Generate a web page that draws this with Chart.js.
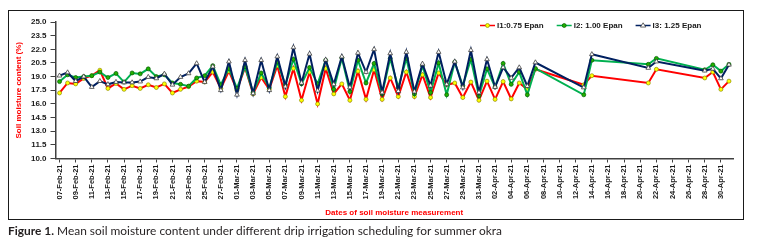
<!DOCTYPE html>
<html><head><meta charset="utf-8">
<script src="https://cdn.jsdelivr.net/npm/chart.js@4.4.1/dist/chart.umd.min.js"></script>
<style>
html,body{margin:0;padding:0;background:#fff;}
#wrap{position:relative;width:757px;height:244px;overflow:hidden;background:#fff;}
#frame{position:absolute;left:8px;top:10px;width:736px;height:210px;border:1.5px solid #1a1a1a;box-sizing:border-box;}
canvas{position:absolute;left:0;top:0;}
#cap{position:absolute;left:8px;top:224.3px;font-family:Lato,'Open Sans',sans-serif;font-size:11.5px;line-height:13.8px;color:#231f20;white-space:nowrap;transform-origin:left top;}
#cap b{font-weight:700;}
</style></head>
<body>
<div id="wrap">
  <div id="frame"></div>
  <canvas id="c" width="757" height="244"></canvas>
  <div id="cap"><b>Figure 1.</b> Mean soil moisture content under different drip irrigation scheduling for summer okra</div>
</div>
<script>
// ---------------- DATA ----------------
const dates = [
 "07-Feb-21","08-Feb-21","09-Feb-21","10-Feb-21","11-Feb-21","12-Feb-21","13-Feb-21","14-Feb-21","15-Feb-21","16-Feb-21",
 "17-Feb-21","18-Feb-21","19-Feb-21","20-Feb-21","21-Feb-21","22-Feb-21","23-Feb-21","24-Feb-21","25-Feb-21","26-Feb-21",
 "27-Feb-21","28-Feb-21",
 "01-Mar-21","02-Mar-21","03-Mar-21","04-Mar-21","05-Mar-21","06-Mar-21","07-Mar-21","08-Mar-21","09-Mar-21","10-Mar-21",
 "11-Mar-21","12-Mar-21","13-Mar-21","14-Mar-21","15-Mar-21","16-Mar-21","17-Mar-21","18-Mar-21","19-Mar-21","20-Mar-21",
 "21-Mar-21","22-Mar-21","23-Mar-21","24-Mar-21","25-Mar-21","26-Mar-21","27-Mar-21","28-Mar-21","29-Mar-21","30-Mar-21",
 "31-Mar-21",
 "01-Apr-21","02-Apr-21","03-Apr-21","04-Apr-21","05-Apr-21","06-Apr-21","07-Apr-21",
 "13-Apr-21","14-Apr-21","21-Apr-21","22-Apr-21","28-Apr-21","29-Apr-21","30-Apr-21","01-May-21"
];

const seriesNames = ["I1:0.75 Epan", "I2: 1.00 Epan", "I3: 1.25 Epan"];

const i1 = [
 17.2,18.3,18.2,18.8,19.1,19.7,17.7,18.25,17.6,18.0,
 17.7,18.1,17.8,18.2,17.2,17.6,17.9,18.5,18.4,19.5,
 17.7,19.6,
 17.5,20.0,17.1,18.9,17.6,20.2,16.8,19.9,16.4,19.5,
 16.0,19.9,17.1,18.2,16.4,19.6,16.5,19.75,16.5,18.85,
 16.8,19.5,16.8,19.2,16.7,19.4,18.1,18.3,16.7,18.4,
 16.4,
 18.5,16.5,18.45,16.55,18.3,17.6,19.8,
 18.1,19.1,18.3,19.8,18.85,19.5,17.6,18.5
];

const i2 = [
 18.45,19.2,18.9,19.0,19.1,19.5,18.9,19.35,18.4,19.4,
 19.3,19.85,19.0,19.2,18.3,18.15,17.95,18.85,19.1,20.2,
 18.1,19.9,
 17.7,20.1,17.25,19.4,17.8,20.6,18.1,20.9,18.2,20.0,
 18.2,20.8,17.6,21.05,17.35,20.8,18.3,20.45,17.1,21.0,
 17.8,21.0,17.1,20.2,17.25,20.5,17.0,20.6,18.0,20.9,
 16.9,
 19.85,17.85,20.45,18.15,19.5,17.0,19.9,
 17.0,20.8,20.35,21.0,19.75,20.3,19.6,20.35
];

const i3 = [
 19.1,19.45,18.5,19.0,17.85,18.5,18.15,18.4,18.35,18.35,
 18.45,18.95,18.8,19.3,18.1,18.95,19.35,20.45,18.4,20.1,
 17.5,20.65,
 17.0,20.8,17.15,20.8,17.5,21.2,17.9,22.2,18.3,21.5,
 17.45,20.85,18.15,21.2,17.8,21.6,19.5,22.0,17.25,21.55,
 17.4,21.7,17.35,20.4,18.0,21.7,18.15,20.65,17.8,21.9,
 17.25,
 20.9,17.85,20.0,18.85,20.0,17.95,20.55,
 17.8,21.45,19.95,20.65,19.65,19.85,18.8,20.3
];

const tickLabels = [
 "07-Feb-21","09-Feb-21","11-Feb-21","13-Feb-21","15-Feb-21","17-Feb-21","19-Feb-21","21-Feb-21","23-Feb-21","25-Feb-21",
 "27-Feb-21","01-Mar-21","03-Mar-21","05-Mar-21","07-Mar-21","09-Mar-21","11-Mar-21","13-Mar-21","15-Mar-21","17-Mar-21",
 "19-Mar-21","21-Mar-21","23-Mar-21","25-Mar-21","27-Mar-21","29-Mar-21","31-Mar-21","02-Apr-21","04-Apr-21","06-Apr-21",
 "08-Apr-21","10-Apr-21","12-Apr-21","14-Apr-21","16-Apr-21","18-Apr-21","20-Apr-21","22-Apr-21","24-Apr-21","26-Apr-21",
 "28-Apr-21","30-Apr-21"
];

const yTicks = [10.0, 11.5, 13.0, 14.5, 16.0, 17.5, 19.0, 20.5, 22.0, 23.5, 25.0];

const xTitle = "Dates of soil moisture measurement";
const yTitle = "Soil moisture content (%)";

// ---------------- HELPERS ----------------
const MONTHS = {Jan:0,Feb:1,Mar:2,Apr:3,May:4,Jun:5,Jul:6,Aug:7,Sep:8,Oct:9,Nov:10,Dec:11};
function toDay(s){
  const p = s.split("-");
  const t = Date.UTC(2000 + +p[2], MONTHS[p[1]], +p[0]);
  return Math.round((t - Date.UTC(2021,1,7)) / 86400000);
}
const dayX = dates.map(toDay);
const tickDays = tickLabels.map(toDay);
function pts(vals){ return vals.map((v,i)=>({x:dayX[i], y:v})); }

const FONT = "'Liberation Sans', Arial, sans-serif";
Chart.defaults.font.family = FONT;

function marker(c, style, x, y, r, fill, stroke, bw){
  c.save();
  c.fillStyle = fill; c.strokeStyle = stroke; c.lineWidth = bw;
  c.beginPath();
  if (style === 'triangle'){
    c.moveTo(x, y - r);
    c.lineTo(x + r*0.866*1.15, y + r*0.5*1.15);
    c.lineTo(x - r*0.866*1.15, y + r*0.5*1.15);
    c.closePath();
  } else {
    c.arc(x, y, r, 0, Math.PI*2);
  }
  c.fill(); c.stroke();
  c.restore();
}

const legendPlugin = {
  id: 'lineLegend',
  afterDraw(chart){
    const c = chart.ctx;
    c.save();
    c.font = "bold 8px " + FONT;
    c.textBaseline = 'middle';
    c.fillStyle = '#1a1a1a';
    let x = 480; const y = 25.5;
    chart.data.datasets.forEach(ds=>{
      c.strokeStyle = ds.borderColor; c.lineWidth = 1.5;
      c.beginPath(); c.moveTo(x, y); c.lineTo(x + 15, y); c.stroke();
      marker(c, ds.pointStyle, x + 7.5, y, ds.pointRadius, ds.pointBackgroundColor, ds.pointBorderColor, ds.pointBorderWidth);
      c.fillStyle = '#1a1a1a';
      c.fillText(ds.label, x + 17, y);
      x += 17 + c.measureText(ds.label).width + 13;
    });
    c.restore();
  }
};

new Chart(document.getElementById('c'), {
  type: 'line',
  data: {
    datasets: [
      {label: seriesNames[0], data: pts(i1), borderColor: '#FF0000', backgroundColor: '#FFFF00',
       pointBackgroundColor: '#FFFF00', pointBorderColor: '#8c8c00', pointBorderWidth: 0.7,
       pointRadius: 2.0, pointStyle: 'circle', borderWidth: 2, tension: 0, order: 3},
      {label: seriesNames[1], data: pts(i2), borderColor: '#00B050', backgroundColor: '#22B000',
       pointBackgroundColor: '#22B000', pointBorderColor: '#005a00', pointBorderWidth: 0.7,
       pointRadius: 2.0, pointStyle: 'circle', borderWidth: 2, tension: 0, order: 2},
      {label: seriesNames[2], data: pts(i3), borderColor: '#002060', backgroundColor: '#FFFFFF',
       pointBackgroundColor: '#FFFFFF', pointBorderColor: '#404040', pointBorderWidth: 0.8,
       pointRadius: 2.7, pointStyle: 'triangle', borderWidth: 2, tension: 0, order: 1}
    ]
  },
  options: {
    responsive: false, animation: false, events: [], devicePixelRatio: 1,
    layout: {padding: {left: 10, right: 24, top: 22, bottom: 25.5}},
    plugins: {legend: {display: false}, tooltip: {enabled: false}},
    scales: {
      x: {
        type: 'linear', min: -0.5, max: 83.5,
        afterBuildTicks(s){ s.ticks = tickDays.map(v=>({value: v})); },
        afterFit(s){ s.height = 60; },
        ticks: {autoSkip: false, maxRotation: 90, minRotation: 90, padding: 2, color: '#1a1a1a',
                font: {size: 7.5, weight: 'bold'}, callback: (v, i) => tickLabels[i]},
        grid: {drawOnChartArea: false, drawTicks: true, tickLength: 4, color: '#404040', lineWidth: 1},
        border: {display: true, color: '#404040', width: 1.5},
        title: {display: true, text: xTitle, color: '#FF0000', font: {size: 8, weight: 'bold'},
                padding: {top: 0, bottom: 1.2}}
      },
      y: {
        min: 10, max: 25,
        afterBuildTicks(s){ s.ticks = yTicks.map(v=>({value: v})); },
        afterFit(s){ s.width = 45.5; },
        ticks: {padding: 4, color: '#1a1a1a', font: {size: 8, weight: 'bold'},
                callback: v => Number(v).toFixed(1)},
        grid: {drawOnChartArea: false, drawTicks: true, tickLength: 5, color: '#404040', lineWidth: 1},
        border: {display: true, color: '#404040', width: 1.5},
        title: {display: true, text: yTitle, color: '#FF0000', font: {size: 8, weight: 'bold'},
                padding: {top: 4.2, bottom: 0}}
      }
    }
  },
  plugins: [legendPlugin]
});

// fit caption width to the reference line length
(function(){
  const cap = document.getElementById('cap');
  const w = cap.getBoundingClientRect().width;
  if (w > 0) cap.style.transform = 'scaleX(' + (494 / w) + ')';
})();
</script>
</body></html>
